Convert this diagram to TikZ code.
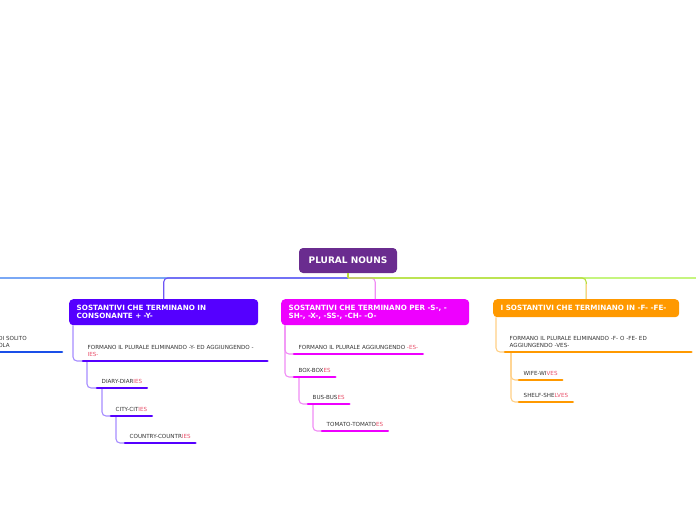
\documentclass[tikz,border=0pt]{standalone}
\usepackage{fontspec}
\setmainfont{DejaVu Sans}
\usetikzlibrary{calc,positioning}

\definecolor{rootcol}{HTML}{6A2C8F}
\definecolor{violetcol}{HTML}{5500FF}
\definecolor{magcol}{HTML}{EE00FF}
\definecolor{orcol}{HTML}{FF9900}
\definecolor{bluecol}{HTML}{1A4FE8}
\definecolor{endcol}{HTML}{E8506A}
\definecolor{txtcol}{HTML}{333333}
\definecolor{violetln}{HTML}{6E55F5}
\definecolor{violetlt}{HTML}{A68CFF}
\definecolor{maglt}{HTML}{F08CF5}
\definecolor{orlt}{HTML}{FFCF85}
\definecolor{bluelt}{HTML}{7AA8F5}
\definecolor{limeln}{HTML}{B8DC3C}
\definecolor{greenlt}{HTML}{C5F57F}

\newcommand{\sfx}[1]{\textcolor{endcol}{#1}}

\tikzset{
  rootbox/.style={fill=rootcol, rounded corners=4pt, text=white,
    font=\fontsize{9}{10}\selectfont\bfseries, minimum width=98pt, minimum height=25pt},
  topic/.style={fill=#1, rounded corners=4pt, text=white, anchor=north west,
    font=\fontsize{7.2}{8}\selectfont\bfseries, align=left, inner xsep=7.5pt, inner ysep=1pt},
  item/.style={anchor=south west, text=txtcol, font=\fontsize{5.6}{6.6}\selectfont,
    align=left, inner xsep=4.5pt, inner ysep=4.5pt},
  conn/.style={line width=1.1pt, rounded corners=4pt},
  uline/.style={line width=2.6pt, line cap=round}
}

\begin{document}
\begin{tikzpicture}[x=1pt, y=-1pt]
  \useasboundingbox (0,0) rectangle (696,520);

  \node[rootbox] (root) at (348,260.5) {PLURAL NOUNS};
  \coordinate (hub)  at (348,278);
  \coordinate (offl) at (-10,278);
  \coordinate (offr) at (710,278);

  \node[topic=violetcol, text width=174pt, minimum height=26pt] (c1) at (69,299)
    {SOSTANTIVI CHE TERMINANO IN\\CONSONANTE + -Y-};
  \node[topic=magcol, text width=173pt, minimum height=26pt] (c2) at (281,299)
    {SOSTANTIVI CHE TERMINANO PER -S-, -\\SH-, -X-, -SS-, -CH- -O-};
  \node[topic=orcol, text width=171pt, minimum height=18pt] (c3) at (493,299)
    {I SOSTANTIVI CHE TERMINANO IN -F- -FE-};

  \node[item, anchor=south east, text width=59pt] (e1) at (62,352) {DI SOLITO\\OLA};

  \node[item, text width=175pt] (a1) at (83,361)
    {FORMANO IL PLURALE ELIMINANDO -Y- ED AGGIUNGENDO -\\\sfx{IES-}};
  \node[item] (a2) at (97,388)  {DIARY-DIAR\sfx{IES}};
  \node[item] (a3) at (111,416) {CITY-CIT\sfx{IES}};
  \node[item] (a4) at (125,443) {COUNTRY-COUNTR\sfx{IES}};

  \node[item] (b1) at (294,354) {FORMANO IL PLURALE AGGIUNGENDO \sfx{-ES-}};
  \node[item] (b2) at (294,377) {BOX-BOX\sfx{ES}};
  \node[item] (b3) at (308,404) {BUS-BUS\sfx{ES}};
  \node[item] (b4) at (322,431) {TOMATO-TOMATO\sfx{ES}};

  \node[item, text width=177pt] (d1) at (505,352)
    {FORMANO IL PLURALE ELIMINANDO -F- O -FE- ED\\AGGIUNGENDO -VES-};
  \node[item] (d2) at (519,380) {WIFE-WI\sfx{VES}};
  \node[item] (d3) at (519,402) {SHELF-SHE\sfx{LVES}};

  \draw[conn, bluelt] (hub) -- (offl);
  \draw[conn, greenlt] (hub) -- (offr);
  \draw[conn, violetln] (hub) -| (c1.north);
  \draw[conn, maglt] (hub) -| (c2.north);
  \draw[conn, limeln] (hub) -| (c3.north);
  \draw[conn, orlt] (c3.north) -- ++(0,-15);
  \draw[conn, limeln] (root.south) -- (hub);

  \draw[conn, violetlt] ($(c1.south west)+(4,0)$) |- (a1.south west);
  \draw[conn, violetlt] ($(a1.south west)+(4,0)$) |- (a2.south west);
  \draw[conn, violetlt] ($(a2.south west)+(5,0)$) |- (a3.south west);
  \draw[conn, violetlt] ($(a3.south west)+(5,0)$) |- (a4.south west);

  \draw[conn, maglt] ($(c2.south west)+(4,0)$) |- (b1.south west);
  \draw[conn, maglt] ($(c2.south west)+(4,0)$) |- (b2.south west);
  \draw[conn, maglt] ($(b2.south west)+(5,0)$) |- (b3.south west);
  \draw[conn, maglt] ($(b3.south west)+(5,0)$) |- (b4.south west);

  \draw[conn, orlt] ($(c3.south west)+(3,0)$) |- (d1.south west);
  \draw[conn, orlt] ($(d1.south west)+(6,0)$) |- (d2.south west);
  \draw[conn, orlt] ($(d1.south west)+(6,0)$) |- (d3.south west);

  \draw[uline, bluecol] ($(e1.south west)+(-20,0)$) -- (e1.south east);
  \foreach \n in {a1,a2,a3,a4}
    \draw[uline, violetcol] (\n.south west) -- (\n.south east);
  \foreach \n in {b1,b2,b3,b4}
    \draw[uline, magcol] (\n.south west) -- (\n.south east);
  \foreach \n in {d1,d2,d3}
    \draw[uline, orcol] (\n.south west) -- (\n.south east);

\end{tikzpicture}
\end{document}
